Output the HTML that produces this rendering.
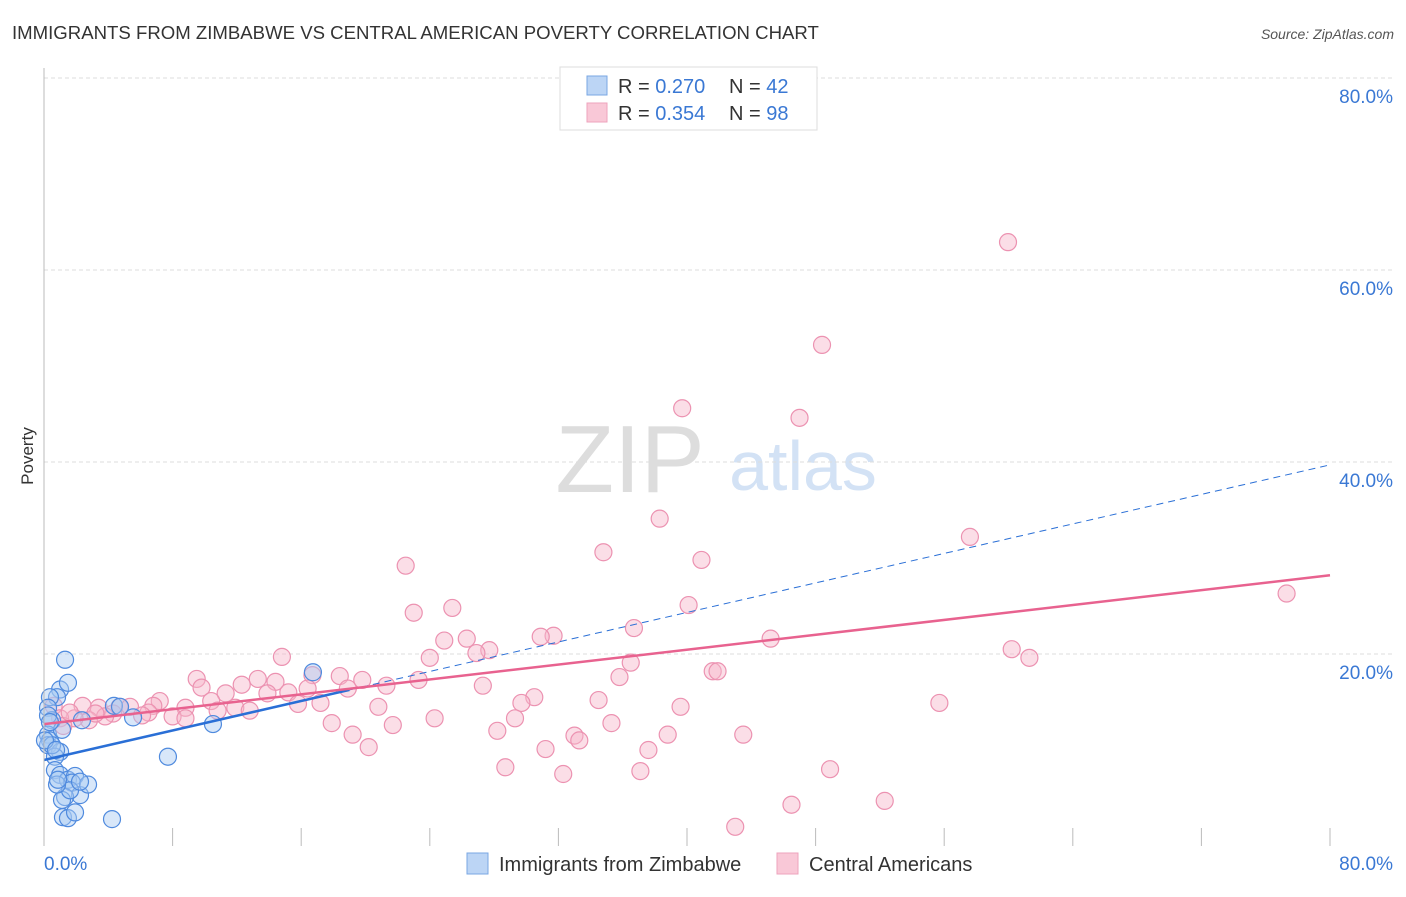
<!DOCTYPE html>
<html><head><meta charset="utf-8"><style>
body{margin:0;background:#fff;font-family:"Liberation Sans",sans-serif;}
svg text{font-family:"Liberation Sans",sans-serif;}
</style></head><body>
<svg width="1406" height="892" id="chart">
<text x="12" y="39" font-size="18.6" fill="#333">IMMIGRANTS FROM ZIMBABWE VS CENTRAL AMERICAN POVERTY CORRELATION CHART</text>
<text x="1394" y="39" font-size="14" fill="#555" font-style="italic" text-anchor="end">Source: ZipAtlas.com</text>
<text x="630" y="492" font-size="96" fill="#ddd" font-family="Liberation Serif" text-anchor="middle">ZIP</text>
<text x="803" y="490" font-size="70" fill="#d3e2f5" text-anchor="middle">atlas</text>
<text transform="translate(33,456) rotate(-90)" font-size="17" fill="#333" text-anchor="middle">Poverty</text>
<g id="grid"></g><g id="pts"></g><g id="lines"></g>
<line x1="44" y1="68" x2="44" y2="846" stroke="#bbb"/>
<g>
<rect x="560" y="67" width="257" height="63" fill="#fff" stroke="#ddd"/>
<rect x="587" y="76" width="20" height="19" fill="#bcd5f5" stroke="#7aa7e3"/>
<rect x="587" y="103" width="20" height="19" fill="#f9c8d7" stroke="#eea3bc"/>
<text x="618" y="93" font-size="20" fill="#333">R = <tspan fill="#3a78d4">0.270</tspan><tspan x="729">N = </tspan><tspan fill="#3a78d4">42</tspan></text>
<text x="618" y="120" font-size="20" fill="#333">R = <tspan fill="#3a78d4">0.354</tspan><tspan x="729">N = </tspan><tspan fill="#3a78d4">98</tspan></text>
</g>
<g>
<rect x="467" y="853" width="21" height="21" fill="#bcd5f5" stroke="#7aa7e3"/>
<text x="499" y="871" font-size="20" fill="#333">Immigrants from Zimbabwe</text>
<rect x="777" y="853" width="21" height="21" fill="#f9c8d7" stroke="#eea3bc"/>
<text x="809" y="871" font-size="20" fill="#333">Central Americans</text>
</g>
<text x="44" y="870" font-size="19" fill="#3a78d4">0.0%</text>
<text x="1393" y="870" font-size="19" fill="#3a78d4" text-anchor="end">80.0%</text>
</svg>
<script>
const yTicks=[20,40,60,80];
const xTicks=[0,8,16,24,32,40,48,56,64,72,80];
const blueX=[1.31,1.0,0.81,1.49,0.37,0.25,0.5,0.25,0.37,0.25,1.12,1.0,0.68,0.68,1.0,1.49,1.93,1.74,2.24,1.31,1.12,1.62,2.74,2.24,0.81,1.18,1.49,1.93,4.23,4.35,4.73,5.54,2.36,7.71,10.51,16.73,0.25,0.5,0.87,0.06,0.37,0.75];
const blueY=[19.4,16.3,15.5,17.0,15.5,14.4,13.1,11.6,11.0,10.5,12.1,9.8,9.3,7.9,7.4,6.9,7.3,6.6,5.3,5.1,4.8,5.8,6.4,6.7,6.4,3.0,2.9,3.5,2.8,14.6,14.5,13.4,13.1,9.3,12.7,18.1,13.6,10.5,6.9,11.0,12.9,10.0];
const pinkX=[59.97,48.4,39.7,47.0,38.3,57.6,34.8,40.9,22.5,77.3,40.1,23.0,25.4,36.7,31.7,24.9,26.3,27.7,26.9,30.9,45.2,60.2,61.3,24.0,14.8,36.5,16.7,41.6,41.9,35.8,23.3,18.4,19.8,9.5,13.3,14.4,12.3,9.8,18.9,21.3,27.3,16.4,15.2,11.3,13.9,7.2,10.4,8.8,30.5,29.7,34.5,15.8,17.2,20.8,39.6,55.7,6.8,4.7,5.35,3.4,2.4,0.6,11.9,6.5,8.0,10.8,6.1,4.3,2.8,1.9,1.0,1.2,24.3,29.3,17.9,21.7,35.3,28.2,19.2,38.8,43.5,33.0,33.3,20.2,31.2,37.6,28.7,32.3,37.1,48.9,46.5,52.3,43.0,3.8,1.6,3.2,12.8,8.8];
const pinkY=[62.9,52.2,45.6,44.6,34.1,32.2,30.6,29.8,29.2,26.3,25.1,24.3,24.8,22.7,21.9,21.4,21.6,20.4,20.1,21.8,21.6,20.5,19.6,19.6,19.7,19.1,17.8,18.2,18.2,17.6,17.3,17.7,17.3,17.4,17.4,17.1,16.8,16.5,16.4,16.7,16.7,16.4,16.0,15.9,15.9,15.1,15.1,14.4,15.5,14.9,15.2,14.8,14.9,14.5,14.5,14.9,14.6,14.5,14.5,14.4,14.6,14.6,14.4,13.9,13.5,14.1,13.6,13.8,13.1,13.3,13.3,12.5,13.3,13.3,12.8,12.6,12.8,12.0,11.6,11.6,11.6,11.5,11.0,10.3,10.1,10.0,8.2,7.5,7.8,8.0,4.3,4.7,2.0,13.5,13.9,13.8,14.1,13.3];
const blueTrend=[8.96,39.7];
const pinkTrend=[12.7,28.2];
const blueSolidEnd=19;
const X=v=>44+v*(1286/80), Y=v=>846-v*(768/80);
const NS="http://www.w3.org/2000/svg";
function mk(tag,attrs,parent){const e=document.createElementNS(NS,tag);for(const k in attrs)e.setAttribute(k,attrs[k]);parent.appendChild(e);return e;}
const grid=document.getElementById('grid');
yTicks.forEach(t=>{
 const l=mk('line',{x1:44,x2:1395,y1:Y(t),y2:Y(t),stroke:'#ddd','stroke-dasharray':'4,3'},grid);
 
 
 const tx=mk('text',{x:1393,y:Y(t)+25,'font-size':19,fill:'#3a78d4','text-anchor':'end'},grid);
 tx.textContent=t.toFixed(1)+'%';
 
 
});
xTicks.forEach(t=>{
 const l=mk('line',{x1:X(t),x2:X(t),y1:828,y2:846,stroke:'#bbb'},grid);
 
 
});
const pts=document.getElementById('pts');
pinkX.forEach((x,i)=>{
 const c=mk('circle',{cx:X(x),cy:Y(pinkY[i]),r:8.5,fill:'#f7b6ca','fill-opacity':0.45,stroke:'#ec92b1','stroke-width':1.2},pts);
 
 
});
blueX.forEach((x,i)=>{
 const c=mk('circle',{cx:X(x),cy:Y(blueY[i]),r:8.5,fill:'#a9c9f2','fill-opacity':0.45,stroke:'#4f8ade','stroke-width':1.2},pts);
 
 
});
const lines=document.getElementById('lines');
const bAt=v=>blueTrend[0]+(blueTrend[1]-blueTrend[0])*v/80;
let l=mk('line',{x1:X(0),y1:Y(bAt(0)),x2:X(blueSolidEnd),y2:Y(bAt(blueSolidEnd)),stroke:'#2a6fd6','stroke-width':2.5},lines);


l=mk('line',{x1:X(blueSolidEnd),y1:Y(bAt(blueSolidEnd)),x2:X(80),y2:Y(bAt(80)),stroke:'#2a6fd6','stroke-width':1,'stroke-dasharray':'7,5'},lines);


l=mk('line',{x1:X(0),y1:Y(pinkTrend[0]),x2:X(80),y2:Y(pinkTrend[1]),stroke:'#e8628f','stroke-width':2.5},lines);


</script>
</body></html>
